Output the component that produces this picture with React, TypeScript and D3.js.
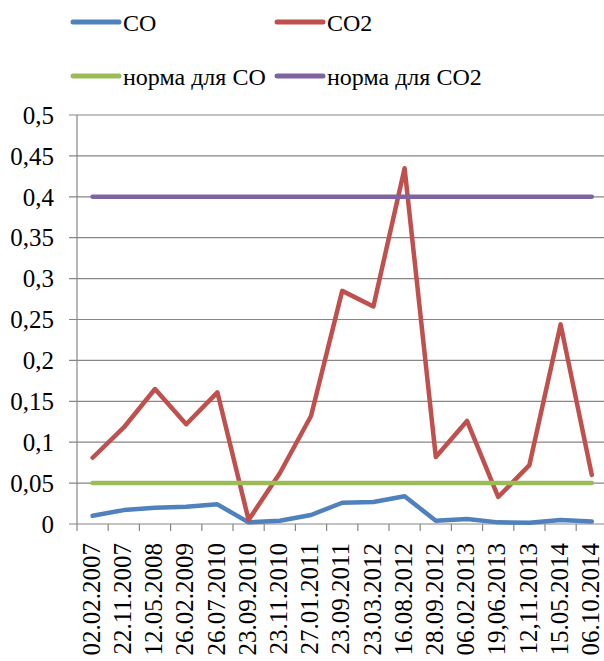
import React from "react";
import * as d3 from "d3";

// Measurement dates (category axis)
const dates = [
  "02.02.2007", "22.11.2007", "12.05.2008", "26.02.2009", "26.07.2010",
  "23.09.2010", "23.11.2010", "27.01.2011", "23.09.2011", "23.03.2012",
  "16.08.2012", "28.09.2012", "06.02.2013", "19,06.2013", "12,11.2013",
  "15.05.2014", "06.10.2014",
];

// Concentrations
const coValues = [
  0.01, 0.017, 0.02, 0.021, 0.024, 0.002, 0.004, 0.011, 0.026, 0.027,
  0.034, 0.004, 0.006, 0.002, 0.0015, 0.005, 0.003,
];
const co2Values = [
  0.081, 0.118, 0.165, 0.122, 0.161, 0.005, 0.062, 0.132, 0.285, 0.266,
  0.435, 0.082, 0.126, 0.033, 0.072, 0.244, 0.06,
];
const coNorm = dates.map(() => 0.05);
const co2Norm = dates.map(() => 0.4);

const yTicks = [0, 0.05, 0.1, 0.15, 0.2, 0.25, 0.3, 0.35, 0.4, 0.45, 0.5];

const seriesNames = ["CO", "CO2", "норма для CO", "норма для CO2"];
const seriesColors = ["#4F81BD", "#C0504D", "#9BBB59", "#8064A2"];
const seriesData = [coValues, co2Values, coNorm, co2Norm];

const W = 604;
const H = 661;
const left = 77;
const top = 115;
const bottom = 524;
const band = 31.2;
const FONT = "'Liberation Serif', Tinos, 'Times New Roman', Times, 'DejaVu Serif', serif";
const GRID = "#868686";

export default function App() {
  const x = d3
    .scaleBand<string>()
    .domain(dates)
    .range([left, left + band * dates.length]);
  const y = d3.scaleLinear().domain([0, 0.5]).range([bottom, top]);
  const cx = (d: string) => (x(d) ?? 0) + x.bandwidth() / 2;

  const line = (vals: number[]) =>
    d3
      .line<number>()
      .x((_, i) => cx(dates[i]))
      .y((v) => y(v))(vals) ?? "";

  const fmt = (v: number) => String(+v.toFixed(2)).replace(".", ",");

  const xEnd = left + band * dates.length;
  const boundaries = d3.range(dates.length + 1).map((i) => left + i * x.bandwidth());

  // legend layout: two columns, two rows
  const legendPos = [
    { lx: 73, ly: 22 },
    { lx: 277, ly: 22 },
    { lx: 73, ly: 76 },
    { lx: 277, ly: 76 },
  ];

  return (
    <svg
      width={W}
      height={H}
      fontFamily={FONT}
      style={{ position: "absolute", left: 0, top: 0, background: "#fff" }}
    >
      <rect width={W} height={H} fill="#fff" />

      {/* horizontal gridlines and left tick marks */}
      {yTicks.map((t) => (
        <line
          key={"g" + t}
          x1={69}
          x2={xEnd}
          y1={y(t)}
          y2={y(t)}
          stroke={GRID}
          strokeWidth={1.2}
        />
      ))}
      {/* value axis */}
      <line x1={left} x2={left} y1={top} y2={bottom} stroke={GRID} strokeWidth={1.2} />
      {/* category tick marks */}
      {boundaries.map((bx, i) => (
        <line key={"t" + i} x1={bx} x2={bx} y1={bottom} y2={bottom + 7} stroke={GRID} strokeWidth={1.2} />
      ))}

      {/* y tick labels */}
      {yTicks.map((t) => (
        <text
          key={"yl" + t}
          x={54}
          y={y(t)}
          dy="0.35em"
          textAnchor="end"
          fontSize={25}
          fill="#000"
        >
          {fmt(t)}
        </text>
      ))}

      {/* x tick labels, rotated */}
      {dates.map((d) => (
        <text
          key={"xl" + d}
          transform={`translate(${cx(d) - 1},543) rotate(-90)`}
          dy="0.33em"
          textAnchor="end"
          fontSize={25}
          fill="#000"
        >
          {d}
        </text>
      ))}

      {/* series lines */}
      {seriesData.map((vals, i) => (
        <path
          key={"s" + i}
          d={line(vals)}
          fill="none"
          stroke={seriesColors[i]}
          strokeWidth={4.5}
          strokeLinejoin="round"
          strokeLinecap="round"
        />
      ))}

      {/* legend */}
      {seriesNames.map((name, i) => (
        <g key={"lg" + i}>
          <line
            x1={legendPos[i].lx}
            x2={legendPos[i].lx + 46}
            y1={legendPos[i].ly}
            y2={legendPos[i].ly}
            stroke={seriesColors[i]}
            strokeWidth={5}
            strokeLinecap="round"
          />
          <text
            x={legendPos[i].lx + 50}
            y={legendPos[i].ly + 9}
            fontSize={24}
            fill="#000"
          >
            {name}
          </text>
        </g>
      ))}
    </svg>
  );
}
